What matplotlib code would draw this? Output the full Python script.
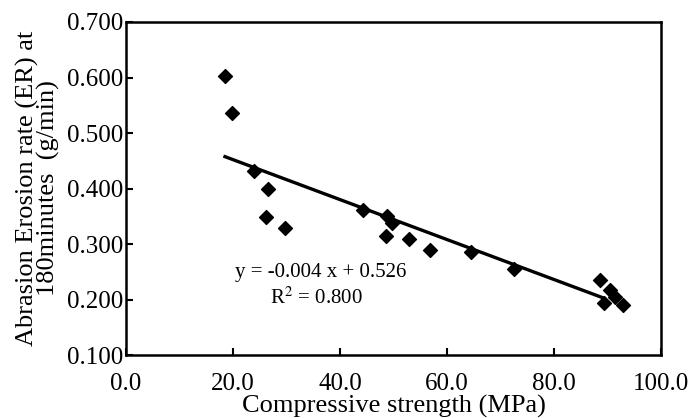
import numpy as np
import matplotlib.pyplot as plt

plt.rcParams.update({
    "font.family": "Liberation Serif",
    "font.size": 18,
    "mathtext.fontset": "stix",
})

# data
strength = [18.5, 19.8, 23.9, 26.5, 26.2, 29.7, 44.3, 48.8, 49.7, 48.6,
            52.9, 56.8, 64.5, 72.5, 88.6, 90.5, 91.4, 89.3, 92.9]
erosion = [0.603, 0.536, 0.432, 0.399, 0.349, 0.329, 0.361, 0.350, 0.338, 0.314,
           0.309, 0.289, 0.286, 0.255, 0.235, 0.217, 0.205, 0.194, 0.190]
fit_x = [18.5, 89.2]
fit_slope = -0.0036
fit_intercept = 0.524
xticks = [0, 20, 40, 60, 80, 100]
yticks = [0.1, 0.2, 0.3, 0.4, 0.5, 0.6, 0.7]

fig = plt.figure(figsize=(6.91, 4.18), dpi=100)
ax = fig.add_axes([126 / 691, 1 - 355 / 418, (661 - 126) / 691, (355 - 22) / 418])

ax.scatter(strength, erosion, marker="D", s=50, color="black", zorder=3)
fx = np.array(fit_x)
ax.plot(fx, fit_slope * fx + fit_intercept, color="black", lw=2.4)

ax.set_xlim(0, 100)
ax.set_ylim(0.1, 0.7)
ax.set_xticks(xticks)
ax.set_xticklabels([f"{v:.1f}" for v in xticks])
ax.set_yticks(yticks)
ax.set_yticklabels([f"{v:.3f}" for v in yticks])
ax.tick_params(direction="in", length=5, width=1.5, pad=2)
ax.tick_params(axis="x", pad=13)
for spine in ax.spines.values():
    spine.set_linewidth(1.8)

ax.text(36.3, 0.248, "y = -0.004 x + 0.526", ha="center", va="center", fontsize=15)
ax.text(35.5, 0.203, r"R$^2$ = 0.800", ha="center", va="center", fontsize=15)

ax.set_xlabel("Compressive strength (MPa)", fontsize=19, labelpad=0)
ax.set_ylabel("Abrasion Erosion rate (ER) at\n180minutes  (g/min)", fontsize=19,
              linespacing=0.9, labelpad=5)

plt.savefig("out.png", dpi=100)
